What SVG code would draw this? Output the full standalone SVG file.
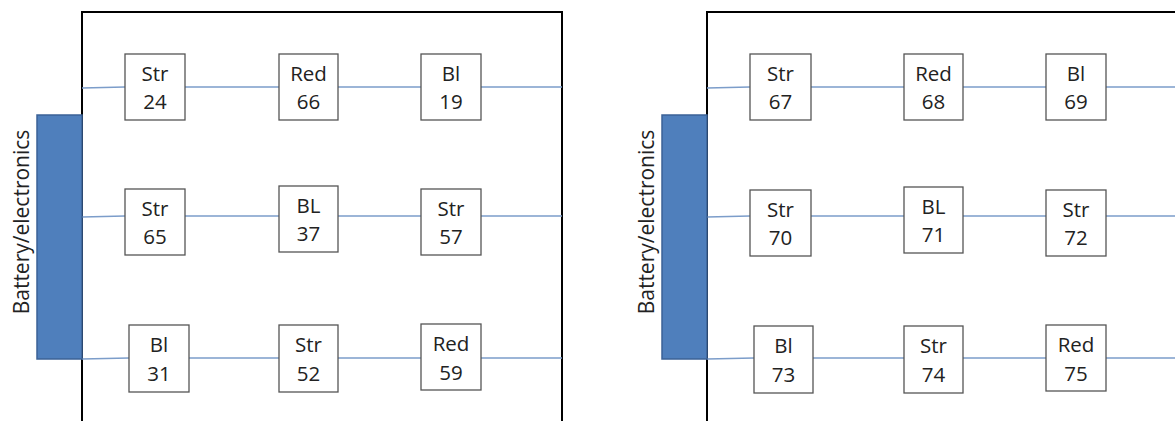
<svg xmlns="http://www.w3.org/2000/svg" width="1175" height="421" viewBox="0 0 1175 421">
<style>
.frame{fill:none;stroke:#000;stroke-width:2}
.bat{fill:#4f7fbc;stroke:#3b6296;stroke-width:1.5}
.box{fill:#fff;stroke:#555;stroke-width:1.3}
.wire{stroke:#7c9dca;stroke-width:1.3;fill:none}
.t{font-family:"Open Sans","Liberation Sans",sans-serif;font-size:20.5px;fill:#222;text-anchor:middle}
.bt{font-family:"Open Sans","Liberation Sans",sans-serif;font-size:21px;fill:#222;text-anchor:middle}
</style>
<rect width="1175" height="421" fill="#fff"/>
<g id="frames">
<path class="frame" d="M82,421 V12 H562 V421"/>
<path class="frame" d="M707,421 V12 H1176"/>
</g>
<g id="connectors">
<path class="wire" d="M82,88 L125,87 M185,87 H279 M338,87 H421 M481,87 H562"/>
<path class="wire" d="M82,217 L125,216 M185,216 H279 M338,216 H421 M481,216 H562"/>
<path class="wire" d="M82,359 L129,358 M189,358 H279 M338,358 H421 M481,358 H562"/>
<path class="wire" d="M707,88 L750,87 M811,87 H904 M963,87 H1046 M1106,87 H1175"/>
<path class="wire" d="M707,217 L750,216 M811,216 H904 M963,216 H1046 M1106,216 H1175"/>
<path class="wire" d="M707,359 L754,358 M813,358 H904 M963,358 H1046 M1106,358 H1175"/>
</g>
<g id="battery-left">
<rect class="bat" x="37" y="115" width="45" height="244"/>
<text class="bt" transform="translate(29,222) rotate(-90)">Battery/electronics</text>
</g>
<g id="battery-right">
<rect class="bat" x="662" y="115" width="45" height="244"/>
<text class="bt" transform="translate(654,222) rotate(-90)">Battery/electronics</text>
</g>
<g id="n-str24"><rect class="box" x="125" y="54" width="60" height="66"/><text class="t" x="155" y="81">Str</text><text class="t" x="155" y="109">24</text></g>
<g id="n-red66"><rect class="box" x="279" y="54" width="59" height="66"/><text class="t" x="308.5" y="81">Red</text><text class="t" x="308.5" y="109">66</text></g>
<g id="n-bl19"><rect class="box" x="421" y="54" width="60" height="66"/><text class="t" x="451" y="81">Bl</text><text class="t" x="451" y="109">19</text></g>
<g id="n-str65"><rect class="box" x="125" y="189" width="60" height="66"/><text class="t" x="155" y="216">Str</text><text class="t" x="155" y="244">65</text></g>
<g id="n-bl37"><rect class="box" x="279" y="186" width="59" height="66"/><text class="t" x="308.5" y="213">BL</text><text class="t" x="308.5" y="241">37</text></g>
<g id="n-str57"><rect class="box" x="421" y="189" width="60" height="66"/><text class="t" x="451" y="216">Str</text><text class="t" x="451" y="244">57</text></g>
<g id="n-bl31"><rect class="box" x="129" y="325" width="60" height="67"/><text class="t" x="159" y="352">Bl</text><text class="t" x="159" y="381">31</text></g>
<g id="n-str52"><rect class="box" x="279" y="325" width="59" height="67"/><text class="t" x="308.5" y="352">Str</text><text class="t" x="308.5" y="381">52</text></g>
<g id="n-red59"><rect class="box" x="421" y="324" width="60" height="66"/><text class="t" x="451" y="351">Red</text><text class="t" x="451" y="380">59</text></g>
<g id="n-str67"><rect class="box" x="750" y="54" width="61" height="66"/><text class="t" x="780.5" y="81">Str</text><text class="t" x="780.5" y="109">67</text></g>
<g id="n-red68"><rect class="box" x="904" y="54" width="59" height="66"/><text class="t" x="933.5" y="81">Red</text><text class="t" x="933.5" y="109">68</text></g>
<g id="n-bl69"><rect class="box" x="1046" y="54" width="60" height="66"/><text class="t" x="1076" y="81">Bl</text><text class="t" x="1076" y="109">69</text></g>
<g id="n-str70"><rect class="box" x="750" y="190" width="61" height="66"/><text class="t" x="780.5" y="217">Str</text><text class="t" x="780.5" y="245">70</text></g>
<g id="n-bl71"><rect class="box" x="904" y="187" width="59" height="66"/><text class="t" x="933.5" y="214">BL</text><text class="t" x="933.5" y="242">71</text></g>
<g id="n-str72"><rect class="box" x="1046" y="190" width="60" height="66"/><text class="t" x="1076" y="217">Str</text><text class="t" x="1076" y="245">72</text></g>
<g id="n-bl73"><rect class="box" x="754" y="326" width="59" height="67"/><text class="t" x="783.5" y="353">Bl</text><text class="t" x="783.5" y="382">73</text></g>
<g id="n-str74"><rect class="box" x="904" y="326" width="59" height="67"/><text class="t" x="933.5" y="353">Str</text><text class="t" x="933.5" y="382">74</text></g>
<g id="n-red75"><rect class="box" x="1046" y="325" width="60" height="66"/><text class="t" x="1076" y="352">Red</text><text class="t" x="1076" y="381">75</text></g>
</svg>
